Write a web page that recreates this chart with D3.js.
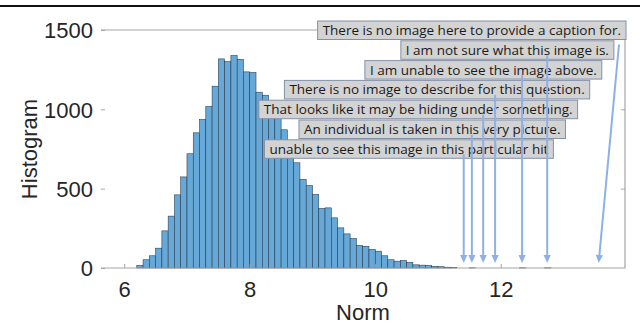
<!DOCTYPE html>
<html lang="en">
<head>
    <meta charset="UTF-8">
    <title>Norm histogram with captions</title>
    <script src="https://d3js.org/d3.v7.min.js"></script>
    <style>
        body { margin: 0; background: #fff; }
        svg { display: block; }
        .tick-label { font-family: "Liberation Sans", Arial, sans-serif; font-size: 22px; fill: #262626; }
        .axis-title { font-family: "Liberation Sans", Arial, sans-serif; font-size: 22px; fill: #262626; }
        .caption { font-family: "Open Sans", sans-serif; font-size: 13.5px; fill: #1a1a1a; }
    </style>
</head>
<body>
    <div id="chart"></div>

    <script>
        // histogram bins (left edge, width 0.1) and counts
        var binStarts = [6.2, 6.3, 6.4, 6.5, 6.6, 6.7, 6.8, 6.9, 7.0, 7.1, 7.2, 7.3, 7.4, 7.5, 7.6, 7.7, 7.8, 7.9,
                         8.0, 8.1, 8.2, 8.3, 8.4, 8.5, 8.6, 8.7, 8.8, 8.9, 9.0, 9.1, 9.2, 9.3, 9.4, 9.5, 9.6, 9.7,
                         9.8, 9.9, 10.0, 10.1, 10.2, 10.3, 10.4, 10.5, 10.6, 10.7, 10.8, 10.9, 11.0, 11.1, 11.2,
                         11.5, 12.3, 12.7];
        var counts = [16, 52, 77, 125, 234, 327, 461, 574, 720, 852, 936, 1018, 1146, 1318, 1301, 1339, 1315, 1236,
                      1232, 1108, 1089, 1010, 960, 871, 760, 663, 558, 520, 463, 375, 379, 316, 253, 215, 186, 142,
                      137, 117, 106, 77, 52, 43, 47, 35, 20, 18, 16, 11, 8, 5, 2,
                      1, 1, 1];
        var binWidth = 0.1;

        // annotated samples
        var captions = [
            "There is no image here to provide a caption for.",
            "I am not sure what this image is.",
            "I am unable to see the image above.",
            "There is no image to describe for this question.",
            "That looks like it may be hiding under something.",
            "An individual is taken in this very picture.",
            "unable to see this image in this particular hit"
        ];
        var captionNorms = [13.56, 12.74, 12.34, 11.91, 11.72, 11.54, 11.41];

        var xTicks = [6, 8, 10, 12];
        var yTicks = [0, 500, 1000, 1500];

        var svg = d3.select("#chart").append("svg")
            .attr("width", 640)
            .attr("height", 325);

        var x = d3.scaleLinear().domain([5.63, 13.98]).range([101, 625]),
            y = d3.scaleLinear().domain([0, 1500]).range([268, 30]);

        // page header rule
        svg.append("rect")
            .attr("x", 0).attr("y", 5)
            .attr("width", 640).attr("height", 2)
            .attr("fill", "#111");

        // bars
        svg.selectAll(".bar")
            .data(binStarts)
            .enter().append("rect")
            .attr("class", "bar")
            .attr("x", function(d) { return x(d); })
            .attr("y", function(d, i) { return y(counts[i]); })
            .attr("width", function(d) { return x(d + binWidth) - x(d); })
            .attr("height", function(d, i) { return y(0) - y(counts[i]); })
            .attr("fill", "#66a9d9")
            .attr("stroke", "#263545")
            .attr("stroke-width", 0.55);

        // box (no left edge)
        var boxColor = "#a6a6a6";
        svg.append("path")
            .attr("d", "M" + x.range()[0] + "," + y(1500) + "H" + x.range()[1] + "V" + y(0) + "H" + x.range()[0])
            .attr("fill", "none")
            .attr("stroke", boxColor)
            .attr("stroke-width", 1.2);

        // x axis
        var xAxis = svg.append("g").attr("transform", "translate(0," + y(0) + ")")
            .call(d3.axisBottom(x).tickValues(xTicks).tickSize(-4).tickFormat(d3.format("d")));
        xAxis.select(".domain").remove();
        xAxis.selectAll("line").attr("stroke", boxColor);
        xAxis.selectAll("text").attr("class", "tick-label").attr("dy", "0").attr("y", 29);

        // y axis
        var yAxis = svg.append("g").attr("transform", "translate(" + x.range()[0] + ",0)")
            .call(d3.axisLeft(y).tickValues(yTicks).tickSize(-4).tickFormat(d3.format("d")));
        yAxis.select(".domain").remove();
        yAxis.selectAll("line").attr("stroke", boxColor);
        yAxis.selectAll("text").attr("class", "tick-label").attr("x", -8).attr("dy", "0.36em");

        // right side ticks
        svg.append("g").attr("transform", "translate(" + x.range()[1] + ",0)")
            .call(d3.axisRight(y).tickValues(yTicks.slice(1, 3)).tickSize(-4).tickFormat(""))
            .call(function(g) { g.select(".domain").remove(); g.selectAll("line").attr("stroke", boxColor); });

        svg.append("text")
            .attr("class", "axis-title")
            .attr("transform", "translate(37," + ((y(0) + y(1500)) / 2) + ") rotate(-90)")
            .attr("text-anchor", "middle")
            .text("Histogram");

        svg.append("text")
            .attr("class", "axis-title")
            .attr("x", (x.range()[0] + x.range()[1]) / 2)
            .attr("y", 320)
            .attr("text-anchor", "middle")
            .text("Norm");

        // caption boxes with arrows
        var arrowColor = "#8eb0e6";
        var rowTop = 21, rowStep = 19.8, boxH = 18.5;

        var ann = svg.append("g");
        captions.forEach(function(c, i) {
            var top = rowTop + i * rowStep,
                right = 626 - 12.1 * i;
            var t = ann.append("text")
                .attr("class", "caption")
                .attr("y", top + boxH / 2)
                .attr("dy", "0.35em")
                .attr("text-anchor", "middle")
                .text(c);
            var w = t.node().getComputedTextLength() + 10;
            t.attr("x", right - w / 2);
            ann.append("rect")
                .attr("x", right - w).attr("y", top)
                .attr("width", w).attr("height", boxH)
                .attr("fill", "#d3d3d3")
                .attr("stroke", "#8391a8")
                .attr("stroke-width", 1);
        });
        // texts above their rects
        ann.selectAll("text").raise();

        var arrows = svg.append("g");
        captionNorms.forEach(function(v, i) {
            var bottom = rowTop + i * rowStep + boxH,
                tipX = x(v), tipY = 263,
                tailX = i === 0 ? 626 - 7 : tipX,
                tailY = i === 0 ? bottom + 5 : bottom - 4;
            var ang = Math.atan2(tipY - tailY, tipX - tailX),
                hl = 8, hw = 3.6;
            var bx = tipX - hl * Math.cos(ang), by = tipY - hl * Math.sin(ang);
            arrows.append("line")
                .attr("x1", tailX).attr("y1", tailY)
                .attr("x2", bx).attr("y2", by)
                .attr("stroke", arrowColor)
                .attr("stroke-width", 2);
            arrows.append("path")
                .attr("d", "M" + tipX + "," + tipY +
                    "L" + (bx + hw * Math.sin(ang)) + "," + (by - hw * Math.cos(ang)) +
                    "L" + (bx - hw * Math.sin(ang)) + "," + (by + hw * Math.cos(ang)) + "Z")
                .attr("fill", arrowColor);
        });
    </script>
</body>
</html>
